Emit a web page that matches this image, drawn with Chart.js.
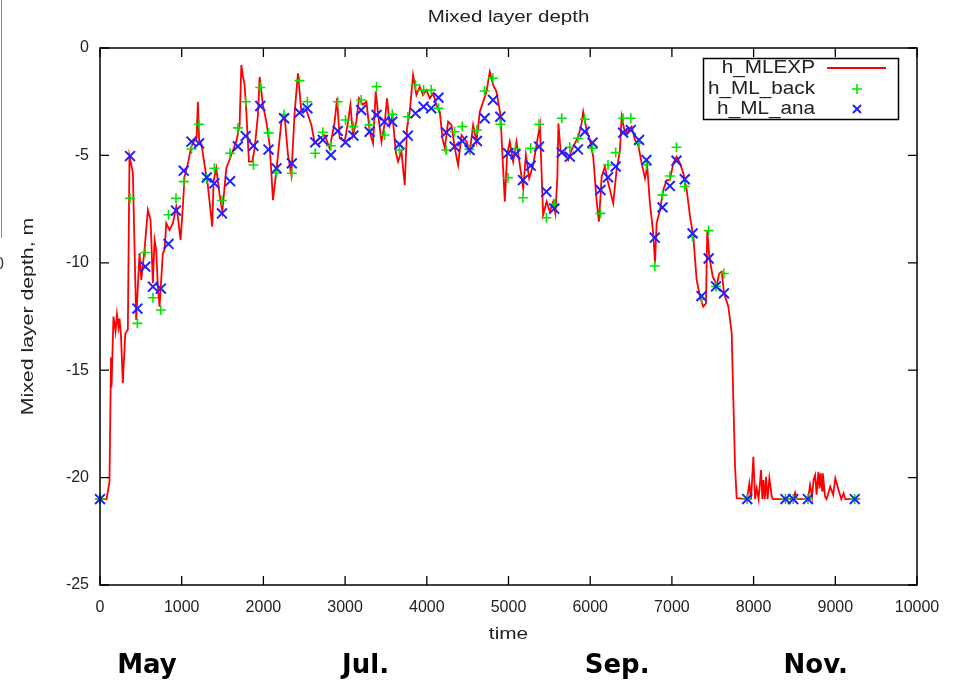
<!DOCTYPE html>
<html>
<head>
<meta charset="utf-8">
<title>Mixed layer depth</title>
<script src="https://cdn.jsdelivr.net/npm/chart.js@4.4.1/dist/chart.umd.min.js"></script>
<style>
  html, body { margin: 0; padding: 0; background: #ffffff; }
  #wrap { position: relative; width: 953px; height: 680px; overflow: hidden; }
  canvas { display: block; }
</style>
</head>
<body>
<div id="wrap"><canvas id="mld" width="953" height="680"></canvas></div>
<script>
// Model run h_MLEXP: time step and mixed layer depth (m)
const expTime = [
  0, 80, 116, 135, 141, 165, 190, 208, 227, 239, 257, 279, 309, 341, 361, 402, 443, 484, 505, 545,
  586, 619, 647, 668, 688, 708, 729, 769, 790, 811, 851, 892, 933, 953, 986, 1014, 1035, 1076, 1117, 1158,
  1182, 1198, 1213, 1243, 1280, 1317, 1341, 1374, 1390, 1423, 1464, 1497, 1546, 1607, 1668, 1709, 1730, 1749, 1770, 1791,
  1823, 1865, 1893, 1933, 1954, 1994, 2036, 2077, 2117, 2158, 2220, 2260, 2301, 2342, 2383, 2423, 2465, 2526, 2587, 2628,
  2689, 2750, 2811, 2873, 2901, 2934, 2995, 3036, 3065, 3097, 3138, 3170, 3219, 3261, 3301, 3342, 3375, 3415, 3445, 3485,
  3513, 3546, 3580, 3620, 3648, 3690, 3730, 3758, 3791, 3832, 3873, 3914, 3954, 3996, 4037, 4077, 4118, 4159, 4192, 4220,
  4261, 4302, 4343, 4383, 4425, 4486, 4526, 4567, 4608, 4649, 4690, 4731, 4771, 4812, 4853, 4902, 4934, 4955, 4983, 5016,
  5057, 5098, 5139, 5180, 5213, 5253, 5302, 5343, 5384, 5405, 5424, 5466, 5506, 5547, 5574, 5598, 5611, 5637, 5690, 5731,
  5772, 5813, 5853, 5895, 5914, 5956, 5996, 6037, 6078, 6107, 6140, 6180, 6221, 6262, 6282, 6323, 6364, 6385, 6426, 6466,
  6507, 6548, 6588, 6630, 6671, 6698, 6731, 6772, 6793, 6813, 6854, 6894, 6936, 6976, 7017, 7058, 7099, 7140, 7181, 7222,
  7262, 7303, 7344, 7384, 7417, 7433, 7458, 7500, 7549, 7580, 7610, 7638, 7691, 7732, 7752, 7773, 7793, 7920, 7948, 7969,
  7997, 8018, 8038, 8061, 8091, 8107, 8119, 8136, 8152, 8171, 8193, 8222, 8238, 8483, 8508, 8532, 8667, 8691, 8716, 8734,
  8753, 8771, 8793, 8808, 8820, 8839, 8847, 8875, 8894, 8938, 8974, 9000, 9040, 9073, 9101, 9121, 9305
];
const expDepth = [
  -21, -21, -20.2, -14.4, -15.8, -12.5, -13.2, -12.4, -13.0, -12.6, -13.4, -15.6, -13.3, -13.1, -5.03, -5.8, -12.66, -9.55, -10.8, -9.4,
  -7.54, -8.0, -10.95, -8.94, -9.4, -11.1, -12.04, -9.56, -9.4, -8.16, -8.47, -8.16, -7.39, -7.85, -8.94, -7.39, -5.99, -5.37, -4.6, -4.28,
  -4.2, -2.5, -4.3, -4.5, -5.45, -6.3, -7.15, -8.32, -6.2, -5.6, -6.84, -7.62, -5.6, -4.98, -4.36, -3.58, -0.79, -1.3, -1.72, -2.97,
  -5.29, -5.29, -4.67, -3.12, -1.34, -2.65, -3.43, -4.52, -7.08, -5.76, -3.43, -3.2, -4.98, -5.91, -2.97, -1.18, -2.97, -2.89, -3.58, -4.44,
  -4.2, -4.05, -4.67, -3.43, -2.34, -4.2, -4.36, -3.43, -2.65, -4.05, -3.43, -2.34, -2.65, -2.5, -3.9, -4.44, -2.03, -3.43, -4.36, -3.51,
  -2.34, -3.58, -3.12, -4.83, -5.29, -4.83, -6.38, -3.74, -2.97, -1.26, -2.19, -1.8, -2.19, -1.96, -2.34, -2.11, -2.65, -2.97, -4.2, -4.67,
  -3.43, -3.58, -4.67, -5.45, -4.05, -4.36, -4.83, -3.58, -4.36, -2.97, -2.5, -2.03, -1.1, -1.72, -2.03, -3.12, -5.6, -7.15, -4.98, -4.36,
  -5.29, -4.36, -5.45, -6.53, -4.98, -6.07, -5.45, -4.52, -3.58, -5.76, -7.77, -7.15, -7.62, -7.15, -7.7, -6.0, -3.51, -4.75, -4.9, -5.21,
  -4.75, -4.44, -4.13, -3.51, -2.97, -3.82, -4.28, -5.06, -7.08, -8.09, -5.99, -5.52, -6.3, -6.92, -7.23, -5.68, -4.75, -3.2, -3.97, -3.82,
  -3.66, -4.28, -4.52, -5.37, -6.07, -5.52, -7.23, -8.63, -10.02, -8.16, -7.54, -6.61, -6.15, -6.15, -5.37, -5.06, -5.37, -5.83, -6.61, -7.85,
  -8.78, -10.8, -11.58, -12.04, -11.89, -8.47, -9.72, -10.65, -11.03, -10.49, -10.41, -11.42, -12.04, -13.28, -16.39, -19.49, -20.96, -21, -20.27, -21,
  -19.03, -21, -20.5, -21, -19.65, -21, -20.11, -21, -19.96, -21, -20.03, -20.89, -21, -21, -20.7, -21, -21, -20.35, -20.9, -20.1,
  -19.88, -20.8, -19.73, -20.5, -19.8, -20.6, -19.8, -20.89, -21, -20.42, -20.8, -20.03, -20.58, -21, -20.73, -21, -21
];

// Assimilation times with background (h_ML_back) and analysis (h_ML_ana) depths (m)
const obsTime = [
  0, 368, 458, 555, 648, 745, 838, 930, 1025, 1120, 1212, 1307, 1400, 1493, 1592, 1688, 1783, 1878, 1962, 2063,
  2160, 2253, 2348, 2442, 2538, 2634, 2727, 2826, 2910, 3005, 3102, 3197, 3300, 3385, 3482, 3577, 3665, 3768, 3862, 3960,
  4054, 4143, 4238, 4340, 4434, 4523, 4613, 4708, 4810, 4900, 4994, 5085, 5177, 5272, 5374, 5464, 5560, 5652, 5750, 5850,
  5933, 6028, 6126, 6218, 6312, 6403, 6497, 6598, 6688, 6790, 6885, 6975, 7056, 7158, 7253, 7363, 7450, 7540, 7637, 7922,
  8390, 8485, 8665, 9238
];
const backDepth = [
  -21, -7.0, -12.82, -9.52, -11.63, -12.2, -7.76, -7.0, -6.22, -4.7, -3.55, -6.1, -5.6, -7.1, -4.9, -3.72, -2.5, -5.45, -1.84, -3.95,
  -5.82, -3.1, -5.83, -1.52, -2.5, -4.9, -3.92, -4.55, -2.5, -3.35, -3.66, -2.42, -3.58, -1.8, -4.05, -3.09, -4.75, -3.2, -1.72, -1.96,
  -1.96, -2.81, -4.75, -3.9, -3.66, -4.72, -3.82, -2.0, -1.41, -3.55, -6.04, -4.7, -6.97, -4.67, -3.55, -7.9, -7.28, -3.27, -4.62, -4.2,
  -3.32, -4.67, -7.7, -5.45, -4.87, -3.27, -3.27, -4.44, -5.45, -10.15, -6.85, -5.96, -4.62, -6.45, -8.78, -11.7, -8.5, -11.1, -10.5, -21,
  -21, -21, -21, -21
];
const anaDepth = [
  -21, -5.03, -12.13, -10.18, -11.11, -11.2, -9.12, -7.57, -5.71, -4.36, -4.44, -6.03, -6.3, -7.7, -6.2, -4.58, -4.1, -4.55, -2.7, -4.73,
  -5.6, -3.27, -5.37, -3.01, -2.81, -4.39, -4.28, -4.98, -3.86, -4.39, -4.08, -2.89, -3.9, -3.12, -3.43, -3.43, -4.48, -4.08, -3.04, -2.73,
  -2.81, -2.31, -3.93, -4.59, -4.33, -4.75, -4.33, -3.27, -2.42, -3.2, -4.9, -4.95, -6.15, -5.48, -4.59, -6.69, -7.48, -4.87, -5.06, -4.72,
  -3.9, -4.41, -6.61, -6.02, -5.52, -3.94, -3.82, -4.28, -5.21, -8.83, -7.42, -6.42, -5.25, -6.11, -8.63, -11.55, -9.8, -11.1, -11.42, -21,
  -21, -21, -21, -21
];

// Axis ticks
const xTicks = [0, 1000, 2000, 3000, 4000, 5000, 6000, 7000, 8000, 9000, 10000];
const yTicks = [0, -5, -10, -15, -20, -25];

// Month annotations under the time axis (time step at label centre)
const monthLabels = ['May', 'Jul.', 'Sep.', 'Nov.'];
const monthTimes = [575, 3250, 6330, 8760];

const seriesNames = ['h_MLEXP', 'h_ML_back', 'h_ML_ana'];

const FONT = "'Liberation Sans', Arial, Helvetica, sans-serif";
const RED = '#ff0000';
const GREEN = '#00e600';
const BLUE = '#2222ff';

function pairs(xs, ys) { return xs.map((x, i) => ({ x: x, y: ys[i] })); }

// wide-set text, stretched along its baseline
function wideText(ctx, text, x, y, sx, rot) {
  ctx.save();
  ctx.translate(x, y);
  if (rot) ctx.rotate(rot);
  ctx.scale(sx, 1);
  ctx.fillText(text, 0, 0);
  ctx.restore();
}

// Frame with inward ticks on all four sides, axis titles, header, legend and months
const decorPlugin = {
  id: 'decor',
  afterDraw(chart) {
    const ctx = chart.ctx;
    const a = chart.chartArea;
    const xs = chart.scales.x, ys = chart.scales.y;
    const tl = 9;
    ctx.save();
    ctx.strokeStyle = '#000';
    ctx.lineWidth = 1.5;
    ctx.strokeRect(a.left, a.top, a.right - a.left, a.bottom - a.top);
    ctx.lineWidth = 1.3;
    ctx.beginPath();
    xTicks.forEach(v => {
      const px = xs.getPixelForValue(v);
      ctx.moveTo(px, a.bottom); ctx.lineTo(px, a.bottom - tl);
      ctx.moveTo(px, a.top); ctx.lineTo(px, a.top + tl);
    });
    yTicks.forEach(v => {
      const py = ys.getPixelForValue(v);
      ctx.moveTo(a.left, py); ctx.lineTo(a.left + tl, py);
      ctx.moveTo(a.right, py); ctx.lineTo(a.right - tl, py);
    });
    ctx.stroke();

    // header and axis titles
    ctx.fillStyle = '#222';
    ctx.textAlign = 'center';
    ctx.textBaseline = 'middle';
    ctx.font = '16px ' + FONT;
    const cx = (a.left + a.right) / 2;
    wideText(ctx, 'Mixed layer depth', cx, 18, 1.28);
    wideText(ctx, 'time', cx, 635, 1.3);
    wideText(ctx, 'Mixed layer depth, m', 29, (a.top + a.bottom) / 2, 1.33, -Math.PI / 2);

    // legend box
    const lx = 703, ly = 58, lw = 195, lh = 61;
    ctx.lineWidth = 1.5;
    ctx.strokeStyle = '#000';
    ctx.strokeRect(lx + 0.5, ly + 0.5, lw, lh);
    ctx.font = '19px ' + FONT;
    ctx.textAlign = 'right';
    const rows = [68, 89, 109];
    seriesNames.forEach((n, i) => wideText(ctx, n, 815, rows[i], 1.09));
    ctx.strokeStyle = RED;
    ctx.lineWidth = 1.8;
    ctx.beginPath(); ctx.moveTo(827, rows[0]); ctx.lineTo(886, rows[0]); ctx.stroke();
    ctx.strokeStyle = GREEN;
    ctx.lineWidth = 1.6;
    ctx.beginPath();
    ctx.moveTo(852, rows[1]); ctx.lineTo(862, rows[1]);
    ctx.moveTo(857, rows[1] - 5); ctx.lineTo(857, rows[1] + 5);
    ctx.stroke();
    ctx.strokeStyle = BLUE;
    ctx.lineWidth = 2;
    ctx.beginPath();
    ctx.moveTo(853, rows[2] - 4); ctx.lineTo(861, rows[2] + 4);
    ctx.moveTo(861, rows[2] - 4); ctx.lineTo(853, rows[2] + 4);
    ctx.stroke();

    // months
    ctx.fillStyle = '#000';
    ctx.textAlign = 'center';
    ctx.textBaseline = 'alphabetic';
    ctx.font = 'bold 26px "DejaVu Sans", sans-serif';
    monthLabels.forEach((m, i) => ctx.fillText(m, xs.getPixelForValue(monthTimes[i]), 673));

    // edge of a neighbouring panel at the far left
    ctx.strokeStyle = '#8a8a8a';
    ctx.lineWidth = 1;
    ctx.beginPath(); ctx.moveTo(1.5, 0); ctx.lineTo(1.5, 238); ctx.stroke();
    ctx.fillStyle = '#333';
    ctx.font = '16px ' + FONT;
    ctx.textAlign = 'left';
    ctx.textBaseline = 'middle';
    ctx.fillText('0', -5, 265);
    ctx.restore();
  }
};

new Chart(document.getElementById('mld').getContext('2d'), {
  type: 'scatter',
  data: {
    datasets: [
      {
        label: seriesNames[2],
        data: pairs(obsTime, anaDepth),
        showLine: false,
        pointStyle: 'crossRot',
        pointRadius: 7,
        borderColor: BLUE,
        backgroundColor: BLUE,
        borderWidth: 2,
        clip: false
      },
      {
        label: seriesNames[1],
        data: pairs(obsTime, backDepth),
        showLine: false,
        pointStyle: 'cross',
        pointRadius: 5,
        borderColor: GREEN,
        backgroundColor: GREEN,
        borderWidth: 1.6,
        clip: false
      },
      {
        label: seriesNames[0],
        data: pairs(expTime, expDepth),
        showLine: true,
        pointRadius: 0,
        borderColor: RED,
        backgroundColor: RED,
        borderWidth: 1.8,
        tension: 0
      }
    ]
  },
  options: {
    responsive: false,
    animation: false,
    devicePixelRatio: 1,
    layout: { padding: { top: 48, right: 36, left: 0, bottom: 0 } },
    plugins: {
      legend: { display: false },
      title: { display: false },
      tooltip: { enabled: false }
    },
    scales: {
      x: {
        type: 'linear',
        min: 0,
        max: 10000,
        afterFit(s) { s.height = 95; },
        afterBuildTicks(s) { s.ticks = xTicks.map(v => ({ value: v })); },
        grid: { display: false, drawTicks: false },
        border: { display: false },
        ticks: { padding: 13, color: '#222', font: { family: FONT, size: 16 }, maxRotation: 0, autoSkip: false, callback: v => String(v) }
      },
      y: {
        type: 'linear',
        min: -25,
        max: 0,
        afterFit(s) { s.width = 100; },
        afterBuildTicks(s) { s.ticks = yTicks.map(v => ({ value: v })); },
        grid: { display: false, drawTicks: false },
        border: { display: false },
        ticks: { padding: 11, color: '#222', font: { family: FONT, size: 16 }, autoSkip: false, callback: v => String(v) }
      }
    }
  },
  plugins: [decorPlugin]
});
</script>
</body>
</html>
